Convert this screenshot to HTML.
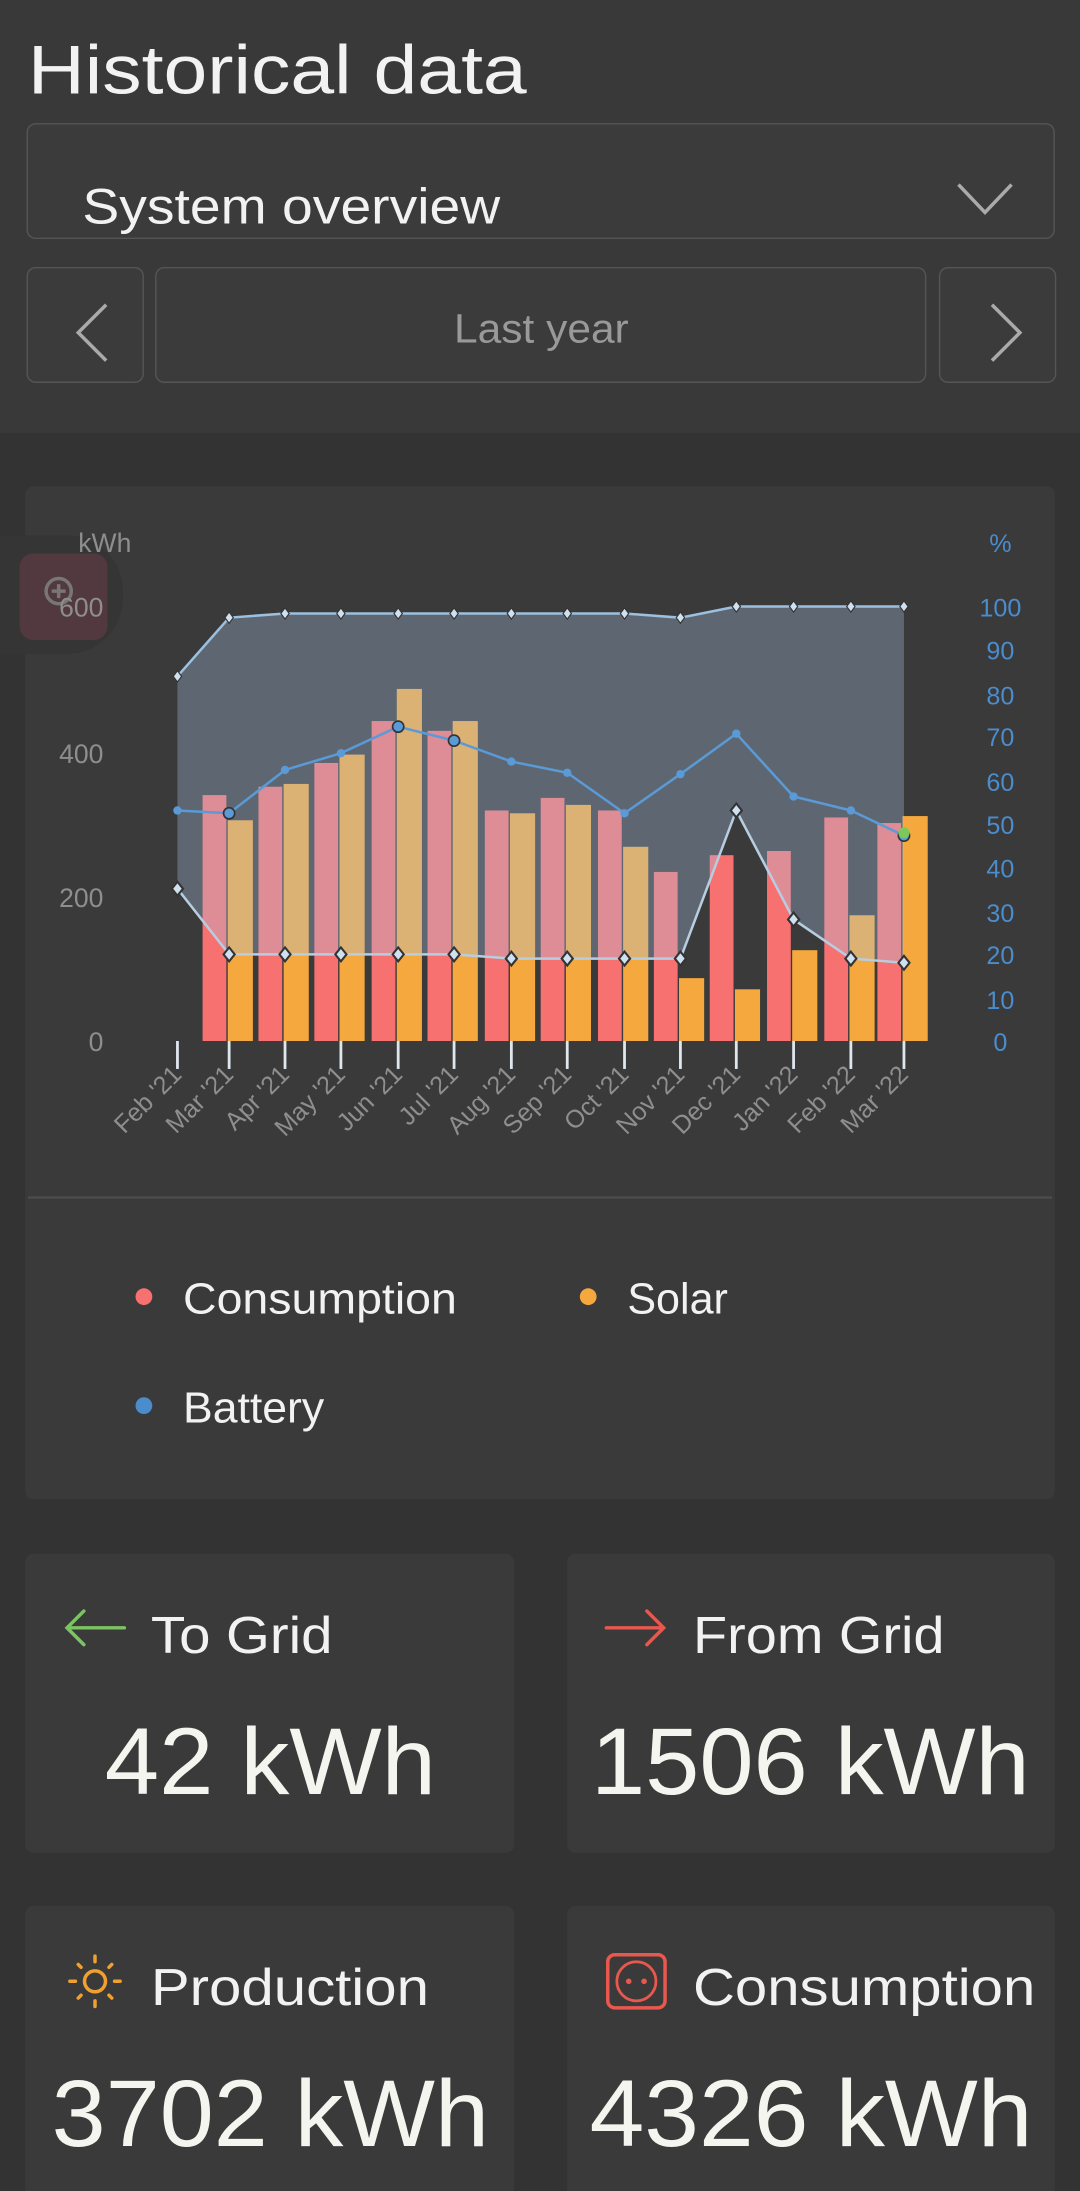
<!DOCTYPE html>
<html><head><meta charset="utf-8"><style>html,body{margin:0;padding:0;background:#333;}svg{display:block}</style></head>
<body>
<svg width="1080" height="2191" viewBox="0 0 773 1568" xmlns="http://www.w3.org/2000/svg" font-family="Liberation Sans, sans-serif">
<rect width="773" height="1568" fill="#333"/>
<rect width="773" height="310" fill="#393939"/>
<text x="20" y="67" font-size="49" fill="#f2f2f2" textLength="357" lengthAdjust="spacingAndGlyphs">Historical data</text>
<rect x="19.5" y="88.5" width="735" height="82" rx="6" fill="#3b3b3b" stroke="#555"/>
<text x="59" y="160" font-size="36" fill="#f2f2f2" textLength="299" lengthAdjust="spacingAndGlyphs">System overview</text>
<polyline points="686,132 705,152 724,132" fill="none" stroke="#aaa" stroke-width="2.5"/>
<rect x="19.5" y="191.5" width="83" height="82" rx="6" fill="#3b3b3b" stroke="#555"/>
<rect x="111.5" y="191.5" width="551" height="82" rx="6" fill="#3b3b3b" stroke="#555"/>
<rect x="672.5" y="191.5" width="83" height="82" rx="6" fill="#3b3b3b" stroke="#555"/>
<polyline points="76,218 56,238 76,258" fill="none" stroke="#aaa" stroke-width="2.5"/>
<polyline points="710,218 730,238 710,258" fill="none" stroke="#aaa" stroke-width="2.5"/>
<text x="325" y="245" font-size="29" fill="#999" textLength="125" lengthAdjust="spacingAndGlyphs">Last year</text>

<rect x="18" y="348" width="737" height="725" rx="6" fill="#3a3a3a"/>
<line x1="20" y1="857" x2="753" y2="857" stroke="#4e4e4e" stroke-width="1.5"/>
<rect x="0" y="383" width="88" height="85" rx="40" fill="#353535"/>
<rect x="0" y="383" width="40" height="85" fill="#353535"/>
<rect x="14" y="396" width="63" height="62" rx="10" fill="#5a3a42" opacity="0.8"/>
<circle cx="42" cy="423" r="9" fill="none" stroke="#777" stroke-width="2.5"/>
<line x1="37" y1="423" x2="47" y2="423" stroke="#777" stroke-width="2.5"/><line x1="42" y1="418" x2="42" y2="428" stroke="#777" stroke-width="2.5"/>

<g font-size="19" fill="#8e8e8e" text-anchor="end">
<text x="94" y="395">kWh</text>
<text x="74" y="441">600</text><text x="74" y="546">400</text><text x="74" y="649">200</text><text x="74" y="752">0</text>
</g>
<g font-size="18" fill="#4a8ccc" text-anchor="middle">
<text x="716" y="395">%</text>
<text x="716" y="441">100</text><text x="716" y="472">90</text><text x="716" y="504">80</text><text x="716" y="534">70</text><text x="716" y="566">60</text><text x="716" y="597">50</text><text x="716" y="628">40</text><text x="716" y="660">30</text><text x="716" y="690">20</text><text x="716" y="722">10</text><text x="716" y="752">0</text>
</g>

<g fill="#f87171">
<rect x="145" y="569" width="17" height="176"/><rect x="185" y="563" width="17" height="182"/><rect x="225" y="546" width="17" height="199"/><rect x="266" y="516" width="17" height="229"/><rect x="306" y="523" width="17" height="222"/><rect x="347" y="580" width="17" height="165"/><rect x="387" y="571" width="17" height="174"/><rect x="428" y="580" width="17" height="165"/><rect x="468" y="624" width="17" height="121"/><rect x="508" y="612" width="17" height="133"/><rect x="549" y="609" width="17" height="136"/><rect x="590" y="585" width="17" height="160"/><rect x="628" y="589" width="17" height="156"/>
</g>
<g fill="#f5a83e">
<rect x="163" y="587" width="18" height="158"/><rect x="203" y="561" width="18" height="184"/><rect x="243" y="540" width="18" height="205"/><rect x="284" y="493" width="18" height="252"/><rect x="324" y="516" width="18" height="229"/><rect x="365" y="582" width="18" height="163"/><rect x="405" y="576" width="18" height="169"/><rect x="446" y="606" width="18" height="139"/><rect x="486" y="700" width="18" height="45"/><rect x="526" y="708" width="18" height="37"/><rect x="567" y="680" width="18" height="65"/><rect x="608" y="655" width="18" height="90"/><rect x="646" y="584" width="18" height="161"/>
</g>
<polygon fill="rgba(170,197,228,0.33)" points="127,484 164,442 204,439 244,439 285,439 325,439 366,439 406,439 447,439 487,442 527,434 568,434 609,434 647,434 647,689 609,686 568,658 527,580 487,686 447,686 406,686 366,686 325,683 285,683 244,683 204,683 164,683 127,636"/>
<polyline fill="none" stroke="#9cc0e0" stroke-width="1.8" points="127,484 164,442 204,439 244,439 285,439 325,439 366,439 406,439 447,439 487,442 527,434 568,434 609,434 647,434"/>
<polyline fill="none" stroke="#b8cde0" stroke-width="1.8" points="127,636 164,683 204,683 244,683 285,683 325,683 366,686 406,686 447,686 487,686 527,580 568,658 609,686 647,689"/>
<polyline fill="none" stroke="#5a9ad6" stroke-width="1.8" points="127,580 164,582 204,551 244,539 285,520 325,530 366,545 406,553 447,582 487,554 527,525 568,570 609,580 647,598"/>
<g fill="#cfe0f0" stroke="#333" stroke-width="0.8">
<path d="M127,480l3,4-3,4-3-4z"/><path d="M164,438l3,4-3,4-3-4z"/><path d="M204,435l3,4-3,4-3-4z"/><path d="M244,435l3,4-3,4-3-4z"/><path d="M285,435l3,4-3,4-3-4z"/><path d="M325,435l3,4-3,4-3-4z"/><path d="M366,435l3,4-3,4-3-4z"/><path d="M406,435l3,4-3,4-3-4z"/><path d="M447,435l3,4-3,4-3-4z"/><path d="M487,438l3,4-3,4-3-4z"/><path d="M527,430l3,4-3,4-3-4z"/><path d="M568,430l3,4-3,4-3-4z"/><path d="M609,430l3,4-3,4-3-4z"/><path d="M647,430l3,4-3,4-3-4z"/>
</g>
<g fill="#cfe0f0" stroke="#333" stroke-width="1.5">
<path d="M127,631l4,5-4,5-4-5z"/><path d="M164,678l4,5-4,5-4-5z"/><path d="M204,678l4,5-4,5-4-5z"/><path d="M244,678l4,5-4,5-4-5z"/><path d="M285,678l4,5-4,5-4-5z"/><path d="M325,678l4,5-4,5-4-5z"/><path d="M366,681l4,5-4,5-4-5z"/><path d="M406,681l4,5-4,5-4-5z"/><path d="M447,681l4,5-4,5-4-5z"/><path d="M487,681l4,5-4,5-4-5z"/><path d="M527,575l4,5-4,5-4-5z"/><path d="M568,653l4,5-4,5-4-5z"/><path d="M609,681l4,5-4,5-4-5z"/><path d="M647,684l4,5-4,5-4-5z"/>
</g>
<g fill="#5a9ad6">
<circle cx="127" cy="580" r="3"/><circle cx="164" cy="582" r="4" stroke="#333" stroke-width="1.2"/><circle cx="204" cy="551" r="3"/><circle cx="244" cy="539" r="3"/><circle cx="285" cy="520" r="4" stroke="#333" stroke-width="1.2"/><circle cx="325" cy="530" r="4" stroke="#333" stroke-width="1.2"/><circle cx="366" cy="545" r="3"/><circle cx="406" cy="553" r="3"/><circle cx="447" cy="582" r="3"/><circle cx="487" cy="554" r="3"/><circle cx="527" cy="525" r="3"/><circle cx="568" cy="570" r="3"/><circle cx="609" cy="580" r="3"/><circle cx="647" cy="598" r="4" stroke="#333" stroke-width="1.2"/>
</g>
<circle cx="647" cy="596" r="4" fill="#7cc85a"/>
<g stroke="#dfe6ee" stroke-width="2">
<line x1="127" y1="745" x2="127" y2="765"/><line x1="164" y1="745" x2="164" y2="765"/><line x1="204" y1="745" x2="204" y2="765"/><line x1="244" y1="745" x2="244" y2="765"/><line x1="285" y1="745" x2="285" y2="765"/><line x1="325" y1="745" x2="325" y2="765"/><line x1="366" y1="745" x2="366" y2="765"/><line x1="406" y1="745" x2="406" y2="765"/><line x1="447" y1="745" x2="447" y2="765"/><line x1="487" y1="745" x2="487" y2="765"/><line x1="527" y1="745" x2="527" y2="765"/><line x1="568" y1="745" x2="568" y2="765"/><line x1="609" y1="745" x2="609" y2="765"/><line x1="647" y1="745" x2="647" y2="765"/>
</g>
<g font-size="18" fill="#8e8e8e" text-anchor="end">
<text transform="translate(131,770) rotate(-45)">Feb '21</text><text transform="translate(168,770) rotate(-45)">Mar '21</text><text transform="translate(208,770) rotate(-45)">Apr '21</text><text transform="translate(248,770) rotate(-45)">May '21</text><text transform="translate(289,770) rotate(-45)">Jun '21</text><text transform="translate(329,770) rotate(-45)">Jul '21</text><text transform="translate(370,770) rotate(-45)">Aug '21</text><text transform="translate(410,770) rotate(-45)">Sep '21</text><text transform="translate(451,770) rotate(-45)">Oct '21</text><text transform="translate(491,770) rotate(-45)">Nov '21</text><text transform="translate(531,770) rotate(-45)">Dec '21</text><text transform="translate(572,770) rotate(-45)">Jan '22</text><text transform="translate(613,770) rotate(-45)">Feb '22</text><text transform="translate(651,770) rotate(-45)">Mar '22</text>
</g>

<circle cx="103" cy="928" r="6" fill="#f87171"/><text x="131" y="940" font-size="31" fill="#f2f2f2" textLength="196" lengthAdjust="spacingAndGlyphs">Consumption</text>
<circle cx="421" cy="928" r="6" fill="#f5a83e"/><text x="449" y="940" font-size="31" fill="#f2f2f2" textLength="72" lengthAdjust="spacingAndGlyphs">Solar</text>
<circle cx="103" cy="1006" r="6" fill="#4a8ccc"/><text x="131" y="1018" font-size="31" fill="#f2f2f2" textLength="101" lengthAdjust="spacingAndGlyphs">Battery</text>

<rect x="18" y="1112" width="350" height="214" rx="6" fill="#3a3a3a"/>
<rect x="406" y="1112" width="349" height="214" rx="6" fill="#3a3a3a"/>
<rect x="18" y="1364" width="350" height="230" rx="6" fill="#3a3a3a"/>
<rect x="406" y="1364" width="349" height="230" rx="6" fill="#3a3a3a"/>

<g fill="none" stroke-width="2.5" stroke-linecap="round">
<path d="M48,1165h41M60,1153l-12,12 12,12" stroke="#7cc462"/>
<path d="M434,1165h41M463,1153l12,12-12,12" stroke="#e8584f"/>
<circle cx="68" cy="1418" r="7.5" stroke="#f0a030"/>
<rect x="435" y="1399" width="41" height="38" rx="5" stroke="#e8584f"/>
<circle cx="455.5" cy="1418" r="14" stroke="#e8584f" stroke-width="2"/>
</g>
<g stroke="#f0a030" stroke-width="2.5" stroke-linecap="round">
<line x1="68" y1="1400" x2="68" y2="1404"/><line x1="68" y1="1432" x2="68" y2="1436"/><line x1="50" y1="1418" x2="54" y2="1418"/><line x1="82" y1="1418" x2="86" y2="1418"/><line x1="56" y1="1406" x2="58" y2="1408"/><line x1="80" y1="1406" x2="78" y2="1408"/><line x1="56" y1="1430" x2="58" y2="1428"/><line x1="80" y1="1430" x2="78" y2="1428"/>
</g>
<circle cx="450" cy="1418" r="2" fill="#e8584f"/><circle cx="461" cy="1418" r="2" fill="#e8584f"/>

<g font-size="37" fill="#f2f2f2">
<text x="108" y="1183" textLength="130" lengthAdjust="spacingAndGlyphs">To Grid</text>
<text x="496" y="1183" textLength="180" lengthAdjust="spacingAndGlyphs">From Grid</text>
<text x="108" y="1435" textLength="199" lengthAdjust="spacingAndGlyphs">Production</text>
<text x="496" y="1435" textLength="245" lengthAdjust="spacingAndGlyphs">Consumption</text>
</g>
<g font-size="68" fill="#f5f5f0">
<text x="75" y="1284" textLength="237" lengthAdjust="spacingAndGlyphs">42 kWh</text>
<text x="423" y="1284" textLength="314" lengthAdjust="spacingAndGlyphs">1506 kWh</text>
<text x="37" y="1536" textLength="313" lengthAdjust="spacingAndGlyphs">3702 kWh</text>
<text x="422" y="1536" textLength="317" lengthAdjust="spacingAndGlyphs">4326 kWh</text>
</g>
</svg>
</body></html>
